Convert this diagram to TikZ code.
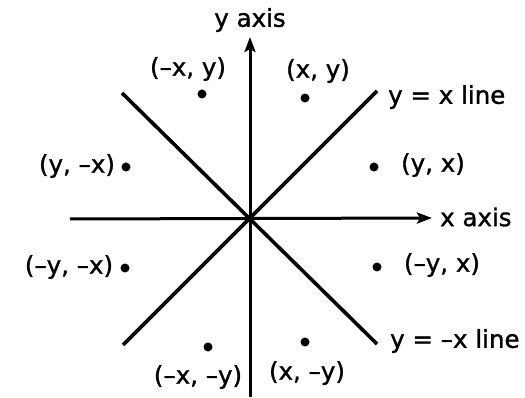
\documentclass[tikz,border=0pt]{standalone}
\usepackage{fontspec}
\setmainfont[FakeBold=1.2]{DejaVu Sans}
\usetikzlibrary{arrows.meta}
\begin{document}
\begin{tikzpicture}[x=1pt,y=-1pt,
  lbl/.style={font=\fontsize{24.5}{27}\selectfont, inner sep=0pt},
  pt/.style={circle, fill=black, inner sep=0pt, minimum size=9pt},
  axisline/.style={line width=3pt, -{Stealth[length=15pt,width=11pt,inset=3pt]}},
  diag/.style={line width=3.6pt}]
\useasboundingbox (0,0) rectangle (525,398);
% axes
\coordinate (O) at (250,218);
\coordinate (ybot) at (250,397);
\coordinate (ytop) at (250,37);
\coordinate (xleft) at (70,219);
\coordinate (xright) at (432,218);
\draw[axisline] (ybot) -- (ytop);
\draw[axisline] (xleft) -- (xright);
% diagonal lines
\coordinate (d1a) at (123,345);
\coordinate (d1b) at (377,91);
\coordinate (d2a) at (122,93);
\coordinate (d2b) at (377,344);
\draw[diag] (d1a) -- (d1b);
\draw[diag] (d2a) -- (d2b);
% axis and line labels
\node[lbl] (ylab) at (250,20) {y axis};
\node[lbl, anchor=west] (xlab) at (440,217) {x axis};
\node[lbl, anchor=west] (l1) at (388,97) {y = x line};
\node[lbl, anchor=west] (l2) at (390,341) {y = –x line};
% points
\node[pt] (p1) at (305,98) {};
\node[pt] (p2) at (202,94) {};
\node[pt] (p3) at (374,167) {};
\node[pt] (p4) at (126,167) {};
\node[pt] (p5) at (125,268) {};
\node[pt] (p6) at (377,267) {};
\node[pt] (p7) at (208,347) {};
\node[pt] (p8) at (305,342) {};
% point labels
\node[lbl] (t1) at (318,71) {(x, y)};
\node[lbl] (t2) at (188,69) {(–x, y)};
\node[lbl] (t3) at (433,165) {(y, x)};
\node[lbl] (t4) at (77,166) {(y, –x)};
\node[lbl] (t5) at (69,267) {(–y, –x)};
\node[lbl] (t6) at (442,265) {(–y, x)};
\node[lbl] (t7) at (198,377) {(–x, –y)};
\node[lbl] (t8) at (307,373) {(x, –y)};
\end{tikzpicture}
\end{document}
